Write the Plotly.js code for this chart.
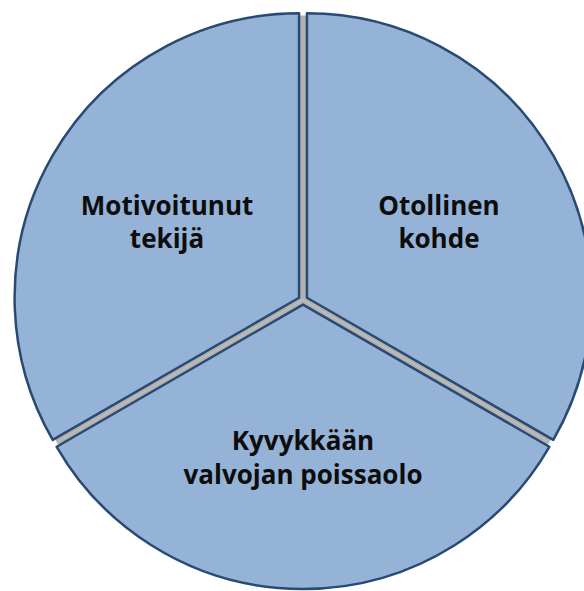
<!DOCTYPE html>
<html>
<head>
<meta charset="utf-8">
<script src="https://cdn.plot.ly/plotly-3.0.1.min.js"></script>
<style>html,body{margin:0;padding:0;background:#fff;overflow:hidden;}#chart{width:600px;height:591px;}</style>
</head>
<body>
<div id="chart"></div>
<script>
const labels = ["Otollinen<br>kohde", "Kyvykkään<br>valvojan poissaolo", "Motivoitunut<br>tekijä"];
const values = [1, 1, 1];
const pullAmt = 0.016;

const dom = {x: [0.0233, 0.9867], y: [0.0034, 0.9814]};
function shrink(d, f) {
  const cx = (d[0] + d[1]) / 2, h = (d[1] - d[0]) / 2 / f;
  return [cx - h, cx + h];
}

const grey = {
  type: 'pie', labels: labels, values: values, sort: false, direction: 'clockwise', rotation: 0,
  domain: {x: shrink(dom.x, 1 + pullAmt), y: shrink(dom.y, 1 + pullAmt)},
  marker: {colors: ['#b2b2b2', '#b2b2b2', '#b2b2b2'], line: {width: 0}},
  textinfo: 'none', hoverinfo: 'skip', showlegend: false
};

const main = {
  type: 'pie', labels: labels, values: values, sort: false, direction: 'clockwise', rotation: 0,
  domain: dom,
  pull: [pullAmt, pullAmt, pullAmt],
  marker: {colors: ['#95b3d7', '#95b3d7', '#95b3d7'], line: {color: '#284a73', width: 2.5}},
  textinfo: 'label', textposition: 'inside', insidetextorientation: 'horizontal',
  textfont: {family: 'Open Sans', size: 26, color: '#0d0d0d', weight: 700},
  hoverinfo: 'label', showlegend: false
};

Plotly.newPlot('chart', [grey, main], {
  width: 600, height: 591,
  margin: {l: 0, r: 0, t: 0, b: 0},
  paper_bgcolor: '#ffffff',
  showlegend: false
}, {staticPlot: true});
</script>
</body>
</html>
